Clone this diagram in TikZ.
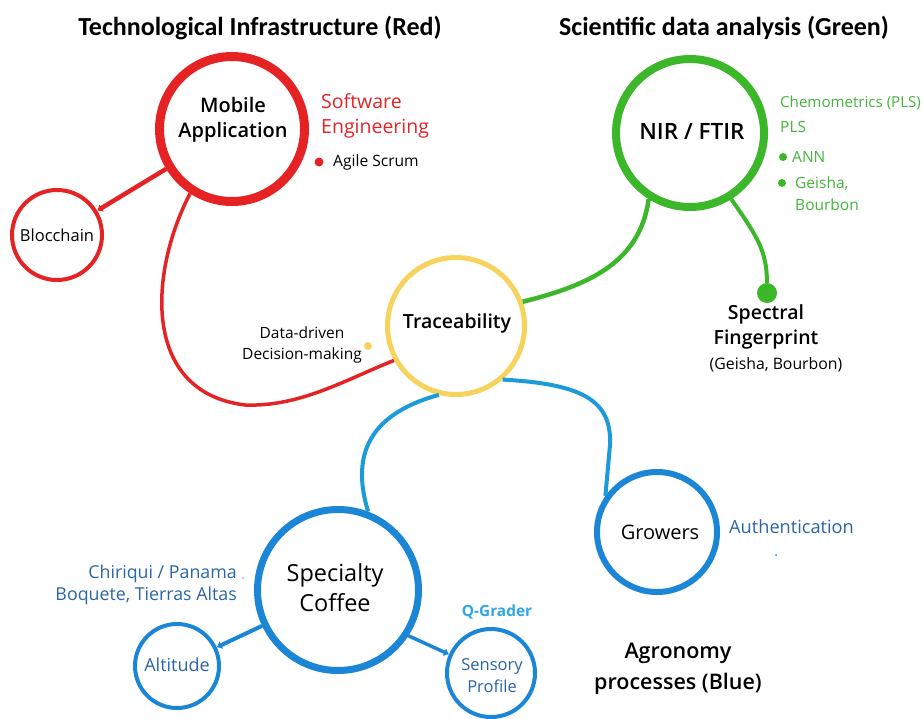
\documentclass[tikz,border=0pt]{standalone}
\usepackage{fontspec}
\setmainfont{Open Sans}
% medium-weight face for the circle captions
\IfFontExistsTF{Open Sans Semibold}{\newfontfamily\medfont{Open Sans Semibold}}{%
 \IfFontExistsTF{Open Sans SemiBold}{\newfontfamily\medfont{Open Sans SemiBold}}{%
  \IfFontExistsTF{OpenSans-Semibold.otf}{\newfontfamily\medfont{OpenSans-Semibold.otf}}{%
   \IfFontExistsTF{OpenSans-SemiBold.ttf}{\newfontfamily\medfont{OpenSans-SemiBold.ttf}}{%
    \newfontfamily\medfont{Open Sans}[FakeBold=1.2]}}}}
\newfontfamily\headfont{Carlito}
\usetikzlibrary{arrows.meta}

\definecolor{ired}{HTML}{E52325}
\definecolor{igreen}{HTML}{3CB72A}
\definecolor{igreentext}{HTML}{43B53A}
\definecolor{iyellow}{HTML}{F5D35C}
\definecolor{iblue}{HTML}{1C86D6}
\definecolor{iblueline}{HTML}{1C9AD9}
\definecolor{idarkblue}{HTML}{2A65A6}
\definecolor{ilightblue}{HTML}{2FA6E8}

\newcommand{\fs}[2]{\fontsize{#1}{#2}\selectfont}
\newcommand{\semi}{\medfont}

\begin{document}
\begin{tikzpicture}[x=1pt,y=-1pt,
  hub/.style={circle, draw, inner sep=0pt},
  txt/.style={inner sep=0pt, align=center},
  dotn/.style={circle, inner sep=0pt, draw=none},
  tip/.style={-{Latex[length=5pt,width=9pt]}},
]
\useasboundingbox (0,0) rectangle (923,718);

% ---- headings ----
\node[txt, font=\headfont\bfseries\fs{26}{30}] (headred) at (260,28) {Technological Infrastructure (Red)};
\node[txt, font=\headfont\bfseries\fs{26}{30}] (headgreen) at (724,28) {Scientific data analysis (Green)};
\node[txt, font=\semi\fs{21.5}{31}] (headblue) at (678,669) {Agronomy\\processes (Blue)};

% ---- circles ----
\node[hub, draw=ired, line width=9pt, minimum size=145pt] (mobile) at (232,129) {};
\node[hub, draw=ired, line width=4pt, minimum size=90pt] (bloc) at (57,235) {};
\node[hub, draw=iyellow, line width=5pt, minimum size=137pt] (trace) at (456,326) {};
\node[hub, draw=igreen, line width=8pt, minimum size=148pt] (nir) at (690,133) {};
\node[hub, draw=iblue, line width=7pt, minimum size=161pt] (spec) at (338,590) {};
\node[hub, draw=iblue, line width=6pt, minimum size=120pt] (grow) at (657,532) {};
\node[hub, draw=iblue, line width=4pt, minimum size=84pt] (alt) at (177,666) {};
\node[hub, draw=iblue, line width=4pt, minimum size=88pt] (sens) at (491,673) {};

% ---- circle labels ----
\node[txt, font=\semi\fs{20}{25}] (mobilelbl) at (233,120) {Mobile\\Application};
\node[txt, font=\fs{16.5}{20}] (bloclbl) at (57,235) {Blocchain};
\node[txt, font=\semi\fs{19.5}{22}] (tracelbl) at (457,323) {Traceability};
\node[txt, font=\semi\fs{22.5}{26}] (nirlbl) at (692,131) {NIR / FTIR};
\node[txt, font=\fs{23.5}{30}] (speclbl) at (335,588) {Specialty\\Coffee};
\node[txt, font=\fs{20}{24}] (growlbl) at (660,532) {Growers};
\node[txt, text=idarkblue, font=\fs{18}{21}] (altlbl) at (177,665) {Altitude};
\node[txt, text=idarkblue, font=\fs{16.5}{22}] (senslbl) at (492,676) {Sensory\\Profile};

% ---- side labels, red group ----
\node[txt, anchor=west, align=left, text=ired, font=\fs{19.5}{25}] (swe) at (321,115.5) {Software\\Engineering};
\node[dotn, fill=ired, minimum size=9pt] (agiledot) at (319,162) {};
\node[txt, anchor=west, font=\fs{15.6}{18}] (agile) at (333,162) {Agile Scrum};
\node[txt, font=\fs{15.5}{21}] (ddm) at (302,345) {Data-driven\\Decision-making};
\node[dotn, fill=iyellow, minimum size=8pt] (ddmdot) at (368,346) {};

% ---- side labels, green group ----
\node[txt, anchor=west, text=igreentext, font=\fs{15.1}{17}] (chem) at (780,103) {Chemometrics (PLS)};
\node[txt, anchor=west, text=igreentext, font=\fs{15.5}{17}] (pls) at (780,127) {PLS};
\node[dotn, fill=igreen, minimum size=8pt] (anndot) at (783,157) {};
\node[txt, anchor=west, text=igreentext, font=\fs{15.5}{17}] (ann) at (792,157) {ANN};
\node[dotn, fill=igreen, minimum size=8pt] (geidot) at (782,183) {};
\node[txt, anchor=west, align=left, text=igreentext, font=\fs{15.5}{22}] (gei) at (795,194) {Geisha,\\Bourbon};
\node[dotn, fill=igreen, minimum size=20pt] (fpdot) at (767,293) {};
\node[txt, font=\semi\fs{19.5}{25}] (fp) at (766,327) {Spectral\\Fingerprint};
\node[txt, font=\fs{15.8}{18}] (fpsub) at (776,365) {(Geisha, Bourbon)};

% ---- side labels, blue group ----
\node[txt, anchor=east, align=right, text=idarkblue, font=\fs{17.8}{22}] (region) at (237,585) {Chiriqui / Panama\\Boquete, Tierras Altas};
\node[dotn, fill=iblue!60, minimum size=2pt] (regiondot) at (243,578) {};
\node[txt, anchor=west, text=idarkblue, font=\fs{18.2}{21}] (auth) at (729,527) {Authentication};
\node[dotn, fill=iblue, minimum size=2pt] (authdot) at (776,555) {};
\node[txt, text=ilightblue, font=\bfseries\fs{15.4}{18}] (qg) at (497,612) {Q-Grader};

% ---- red connectors ----
\draw[ired, line width=4.5pt, tip] (mobile) -- (bloc);
\draw[ired, line width=3.5pt] (mobile.237) .. controls (150,270) and (140,392) .. (245,405)
  .. controls (300,407) and (345,380) .. (trace.209);

% ---- green connectors ----
\draw[igreen, line width=4.5pt] (trace.20) .. controls (590,285) and (640,262) .. (nir.238);
\draw[igreen, line width=4pt] (nir.302) .. controls (756,235) and (767,250) .. (fpdot.north);

% ---- blue connectors ----
\draw[iblueline, line width=4pt] (trace.256) .. controls (362,416) and (353,462) .. (spec.69);
\draw[iblueline, line width=4pt] (trace.311) .. controls (582,384) and (612,400) .. (610,445) -- (grow.145);
\draw[iblue, line width=4pt, tip] (spec) -- (alt);
\draw[iblue, line width=3.5pt, tip] (spec.327) -- (sens.156);
\end{tikzpicture}
\end{document}
